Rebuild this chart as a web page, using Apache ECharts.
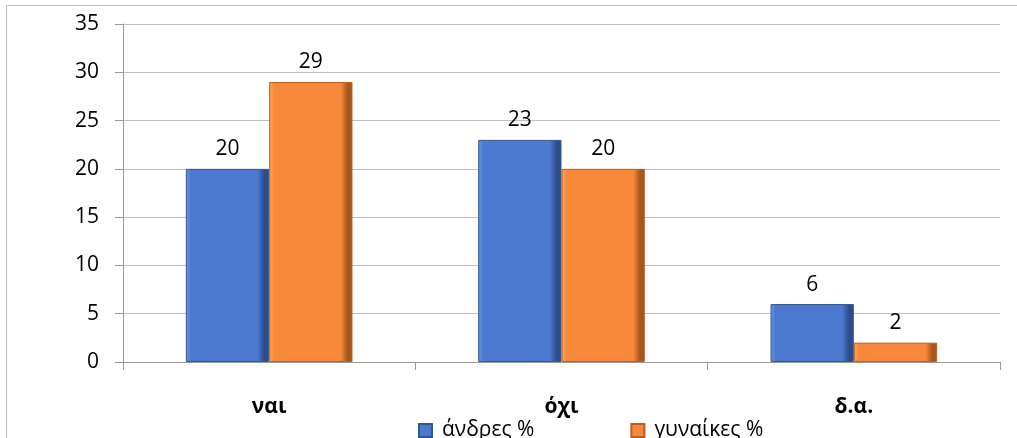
<!DOCTYPE html>
<html>
<head>
<meta charset="utf-8">
<script src="https://cdn.jsdelivr.net/npm/echarts@6/dist/echarts.min.js"></script>
<style>
	html, body { margin: 0; padding: 0; background: #fff; }
	#chart { width: 1017px; height: 438px; }
</style>
</head>
<body>
<div id="chart"></div>
<script>
const categories = ['ναι', 'όχι', 'δ.α.'];
const seriesNames = ['άνδρες %', 'γυναίκες %'];
const men = [20, 23, 6];
const women = [29, 20, 2];
const yTicks = [0, 5, 10, 15, 20, 25, 30, 35];

const font = 'Open Sans, Noto Sans, sans-serif';

// bevelled look: lighter left edge, darker right edge
function bevel(base, light, dark) {
	return new echarts.graphic.LinearGradient(0, 0, 1, 0, [
		{offset: 0, color: light},
		{offset: 0.06, color: base},
		{offset: 0.86, color: base},
		{offset: 0.94, color: dark},
		{offset: 1, color: dark}
	]);
}

const chart = echarts.init(document.getElementById('chart'), null, {renderer: 'canvas'});

const labelStyle = {
	show: true,
	position: 'top',
	distance: 9,
	color: '#000',
	fontSize: 21,
	fontFamily: font
};

chart.setOption({
	animation: false,
	textStyle: {fontFamily: font},
	graphic: [{
		type: 'rect',
		shape: {x: 6.5, y: 5.5, width: 1200, height: 1000},
		style: {fill: 'none', stroke: '#bfbfbf', lineWidth: 1},
		silent: true
	}],
	grid: {
		left: 123,
		right: 17,
		top: 24,
		bottom: 76
	},
	legend: {
		data: seriesNames,
		left: 418,
		top: 420,
		padding: 0,
		itemWidth: 13,
		itemHeight: 13,
		itemGap: 96,
		icon: 'rect',
		textStyle: {
			fontSize: 21,
			color: '#000',
			fontFamily: font,
			padding: [0, 0, 0, 5]
		}
	},
	xAxis: {
		type: 'category',
		data: categories,
		axisLine: {lineStyle: {color: '#999', width: 1}},
		axisTick: {show: true, length: 8, lineStyle: {color: '#999'}},
		axisLabel: {
			margin: 35,
			fontSize: 21,
			fontWeight: 'bold',
			color: '#000',
			fontFamily: font
		}
	},
	yAxis: {
		type: 'value',
		min: yTicks[0],
		max: yTicks[yTicks.length - 1],
		interval: 5,
		axisLine: {show: true, lineStyle: {color: '#999', width: 1}},
		axisTick: {show: true, length: 8, lineStyle: {color: '#999'}},
		splitLine: {lineStyle: {color: '#bfbfbf', width: 1}},
		axisLabel: {
			margin: 24,
			fontSize: 21,
			color: '#000',
			fontFamily: font
		}
	},
	series: [
		{
			name: seriesNames[0],
			type: 'bar',
			data: men,
			barGap: '0%',
			barCategoryGap: '43%',
			itemStyle: {
				color: bevel('#4a79cf', '#6f97e0', '#2c4d8c'),
				borderColor: '#35598f',
				borderWidth: 1
			},
			label: labelStyle
		},
		{
			name: seriesNames[1],
			type: 'bar',
			data: women,
			itemStyle: {
				color: bevel('#f9893a', '#fba866', '#a9561c'),
				borderColor: '#b86020',
				borderWidth: 1
			},
			label: labelStyle
		}
	]
});
</script>
</body>
</html>
